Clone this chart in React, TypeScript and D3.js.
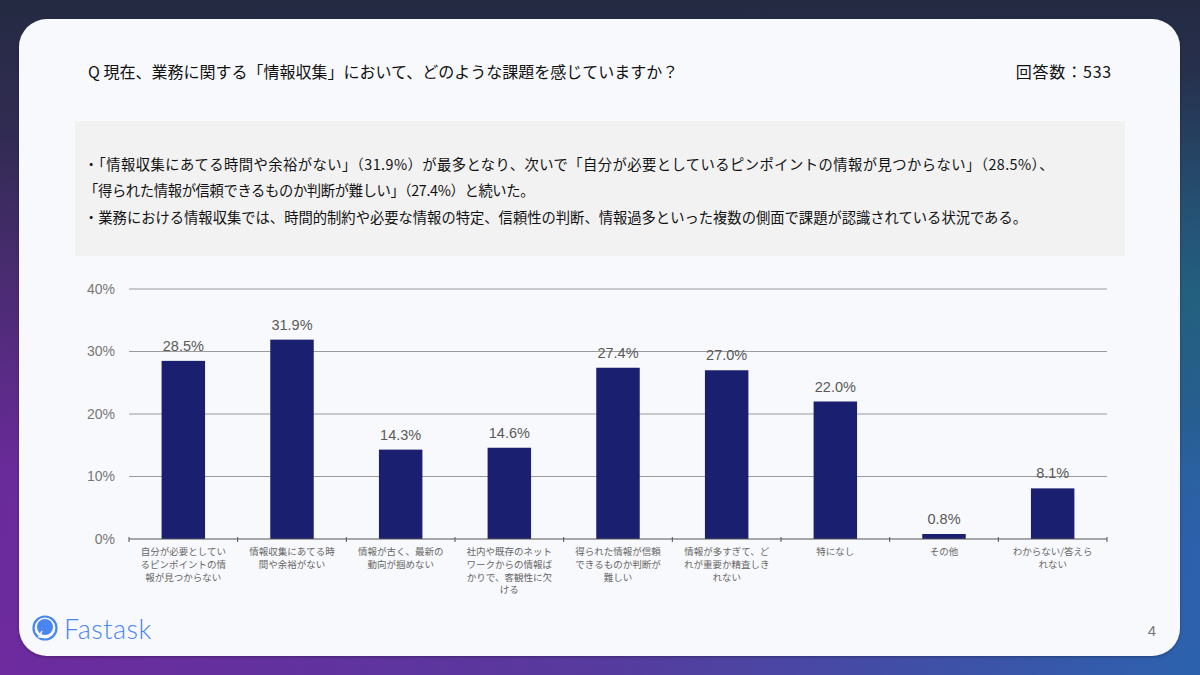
import React from "react";
import * as d3 from "d3";

// ── Data ──────────────────────────────────────────────────────────────────────

const CATEGORIES: string[][] = [
  ["自分が必要としてい", "るピンポイントの情", "報が見つからない"],
  ["情報収集にあてる時", "間や余裕がない"],
  ["情報が古く、最新の", "動向が掴めない"],
  ["社内や既存のネット", "ワークからの情報ば", "かりで、客観性に欠", "ける"],
  ["得られた情報が信頼", "できるものか判断が", "難しい"],
  ["情報が多すぎて、ど", "れが重要か精査しき", "れない"],
  ["特になし"],
  ["その他"],
  ["わからない/答えら", "れない"],
];

const VALUES: number[] = [28.5, 31.9, 14.3, 14.6, 27.4, 27.0, 22.0, 0.8, 8.1];

const Y_TICKS: number[] = [0, 10, 20, 30, 40];

const TITLE = "Q 現在、業務に関する「情報収集」において、どのような課題を感じていますか？";
const RESPONSES = "回答数：533";

const SUMMARY: string[] = [
  "・「情報収集にあてる時間や余裕がない」（31.9%）が最多となり、次いで「自分が必要としているピンポイントの情報が見つからない」（28.5%）、",
  "「得られた情報が信頼できるものか判断が難しい」（27.4%）と続いた。",
  "・業務における情報収集では、時間的制約や必要な情報の特定、信頼性の判断、情報過多といった複数の側面で課題が認識されている状況である。",
];

// ── Layout ────────────────────────────────────────────────────────────────────

const W = 1200;
const H = 675;
const FONT = "'Noto Sans CJK JP', 'Noto Sans', sans-serif";
const NUM_FONT = "'Liberation Sans', Arial, sans-serif";
const BAR_COLOR = "#1b1f70";

export default function App() {
  const x = d3
    .scaleBand<number>()
    .domain(VALUES.map((_, i) => i))
    .range([129, 1107])
    .paddingInner(0.6)
    .paddingOuter(0.3);

  const y = d3.scaleLinear().domain([0, 40]).range([539, 289]);

  const step = x.step();
  const x0 = x.range()[0];
  const tickXs = d3.range(VALUES.length + 1).map((i) => x0 + i * step);
  const cx = (i: number) => (x(i) ?? 0) + x.bandwidth() / 2;

  return (
    <svg
      width={W}
      height={H}
      style={{ position: "fixed", left: 0, top: 0, display: "block" }}
      fontFamily={FONT}
    >
      <defs>
        <linearGradient id="bgH" x1="0" y1="0" x2="1" y2="0">
          <stop offset="0" stopColor="#6d2a9e" />
          <stop offset="0.5" stopColor="#573a9e" />
          <stop offset="1" stopColor="#2c62ae" />
        </linearGradient>
        <linearGradient id="bgV" x1="0" y1="0" x2="0" y2="1">
          <stop offset="0" stopColor="#242a42" stopOpacity="1" />
          <stop offset="0.2" stopColor="#272c46" stopOpacity="0.85" />
          <stop offset="0.7" stopColor="#2a2d48" stopOpacity="0.05" />
          <stop offset="1" stopColor="#2a2d48" stopOpacity="0" />
        </linearGradient>
        <radialGradient id="bgR" cx="1" cy="0.45" r="0.35">
          <stop offset="0" stopColor="#1f6a80" stopOpacity="0.7" />
          <stop offset="1" stopColor="#1f6a80" stopOpacity="0" />
        </radialGradient>
        <filter id="shadow" x="-5%" y="-5%" width="110%" height="110%">
          <feDropShadow dx="0" dy="1" stdDeviation="1.5" floodColor="#000" floodOpacity="0.3" />
        </filter>
      </defs>

      {/* Background */}
      <rect width={W} height={H} fill="url(#bgH)" />
      <rect width={W} height={H} fill="url(#bgV)" />
      <rect width={W} height={H} fill="url(#bgR)" />

      {/* Card */}
      <rect x={19} y={19} width={1161} height={637} rx={28} fill="#f8f9fc" filter="url(#shadow)" />

      {/* Header */}
      <text x={88} y={78} fontSize={16} fill="#111">
        {TITLE}
      </text>
      <text x={1112} y={78} fontSize={16} fill="#111" textAnchor="end" letterSpacing={0.8}>
        {RESPONSES}
      </text>

      {/* Summary box */}
      <rect x={75} y={121} width={1050} height={135} fill="#f2f2f2" />
      {SUMMARY.map((line, i) => (
        <text
          key={i}
          x={84}
          y={[170, 196, 223][i]}
          fontSize={14.3}
          fill="#111"
          letterSpacing={[0.45, -0.35, 0][i]}
        >
          {line}
        </text>
      ))}

      {/* Gridlines + Y labels */}
      {Y_TICKS.map((t) => (
        <g key={t}>
          {t > 0 && (
            <line x1={129} x2={1107} y1={y(t)} y2={y(t)} stroke="#9a9a9a" strokeWidth={1} />
          )}
          <text
            x={115}
            y={y(t)}
            dy="0.35em"
            fontSize={14}
            fill="#777"
            textAnchor="end"
            fontFamily={NUM_FONT}
          >
            {t}%
          </text>
        </g>
      ))}

      {/* Bars */}
      {VALUES.map((v, i) => (
        <g key={i}>
          <rect
            x={x(i)}
            y={y(v)}
            width={x.bandwidth()}
            height={y(0) - y(v)}
            fill={BAR_COLOR}
          />
          <text
            x={cx(i)}
            y={y(v) - 10}
            fontSize={14.5}
            fill="#595959"
            textAnchor="middle"
            fontFamily={NUM_FONT}
          >
            {v.toFixed(1)}%
          </text>
        </g>
      ))}

      {/* X axis */}
      <line x1={129} x2={1107} y1={y(0)} y2={y(0)} stroke="#555" strokeWidth={1} />
      {tickXs.map((tx, i) => (
        <line key={i} x1={tx} x2={tx} y1={y(0) - 2} y2={y(0) + 3} stroke="#555" strokeWidth={1} />
      ))}
      {CATEGORIES.map((lines, i) => (
        <text key={i} x={cx(i)} y={555} fontSize={9.5} fill="#666" textAnchor="middle">
          {lines.map((l, j) => (
            <tspan key={j} x={cx(i)} dy={j === 0 ? 0 : 12.8}>
              {l}
            </tspan>
          ))}
        </text>
      ))}

      {/* Logo */}
      <g>
        <circle cx={45} cy={628} r={11.5} fill="none" stroke="#4a86f0" strokeWidth={2.2} />
        <circle cx={45} cy={627} r={8} fill="#4a86f0" />
        <path d="M42,631 L39,637 L47,637" fill="none" stroke="#f8f9fc" strokeWidth={1.5} />
        <text
          x={64}
          y={639}
          fontSize={27}
          fontWeight={300}
          fill="#4a86f0"
          fontFamily="Lato, 'Open Sans', sans-serif"
          letterSpacing={0.5}
        >
          Fastask
        </text>
      </g>

      {/* Page number */}
      <text x={1152} y={636} fontSize={15} fill="#777" textAnchor="middle" fontFamily={NUM_FONT}>
        4
      </text>
    </svg>
  );
}
